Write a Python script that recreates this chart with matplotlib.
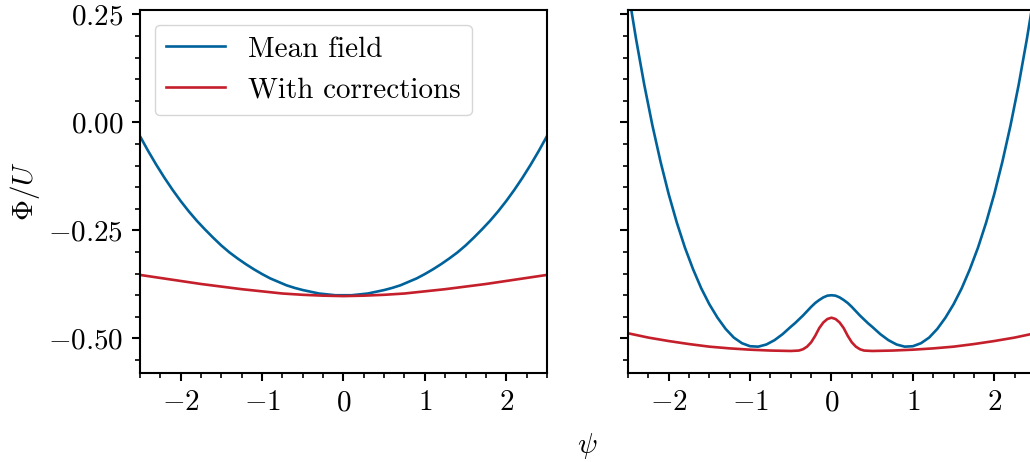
import numpy as np
import matplotlib
matplotlib.use('Agg')
import matplotlib.pyplot as plt
from matplotlib.ticker import MultipleLocator, FormatStrFormatter

plt.rcParams['font.family'] = 'serif'
plt.rcParams['font.serif'] = ['cmr10']
plt.rcParams['mathtext.fontset'] = 'cm'
plt.rcParams['axes.formatter.use_mathtext'] = True

BLUE = '#00629a'
RED = '#c41f2b'

# values read at |psi|, both panels are symmetric in psi
psi_mf_left = [0.0, 0.1, 0.2, 0.3, 0.4, 0.5, 0.6, 0.7, 0.8, 0.9, 1.0, 1.1, 1.2,
               1.3, 1.4, 1.5, 1.6, 1.7, 1.8, 1.9, 2.0, 2.1, 2.2, 2.3, 2.4, 2.5]
mf_left = [-0.400, -0.400, -0.398, -0.396, -0.392, -0.388, -0.383, -0.377, -0.369,
           -0.361, -0.351, -0.340, -0.328, -0.315, -0.301, -0.285, -0.267, -0.248,
           -0.228, -0.206, -0.182, -0.156, -0.128, -0.098, -0.066, -0.032]
psi_corr_left = [0.0, 0.25, 0.5, 0.75, 1.0, 1.25, 1.5, 1.75, 2.0, 2.25, 2.5]
corr_left = [-0.402, -0.401, -0.399, -0.396, -0.391, -0.386, -0.380, -0.374, -0.367,
             -0.360, -0.353]

psi_mf_right = [0.0, 0.05, 0.1, 0.15, 0.2, 0.25, 0.3, 0.35, 0.4, 0.45, 0.5, 0.6, 0.7,
                0.8, 0.9, 1.0, 1.1, 1.2, 1.3, 1.4, 1.5, 1.6, 1.7, 1.8, 1.9, 2.0,
                2.1, 2.2, 2.3, 2.4, 2.5]
mf_right = [-0.400, -0.401, -0.405, -0.411, -0.418, -0.427, -0.437, -0.447, -0.456,
            -0.465, -0.473, -0.490, -0.504, -0.514, -0.519, -0.518, -0.511, -0.498,
            -0.478, -0.452, -0.421, -0.384, -0.340, -0.290, -0.232, -0.166, -0.091,
            -0.007, 0.087, 0.192, 0.307]
psi_corr_right = [0.0, 0.05, 0.1, 0.15, 0.2, 0.25, 0.3, 0.35, 0.4, 0.5, 0.75, 1.0,
                  1.25, 1.5, 1.75, 2.0, 2.25, 2.5]
corr_right = [-0.452, -0.455, -0.463, -0.476, -0.494, -0.509, -0.519, -0.525, -0.528,
              -0.529, -0.528, -0.526, -0.523, -0.519, -0.513, -0.506, -0.498, -0.488]


def mirror(x, y):
    x = np.asarray(x)
    y = np.asarray(y)
    return np.concatenate([-x[:0:-1], x]), np.concatenate([y[:0:-1], y])


fig = plt.figure(figsize=(10.30, 4.62), dpi=100)
ax1 = fig.add_axes([0.1359, 0.1926, 0.3951, 0.7857])
ax2 = fig.add_axes([0.6097, 0.1926, 0.3951, 0.7857], sharey=ax1)

lw = 1.9
ax1.plot(*mirror(psi_mf_left, mf_left), color=BLUE, lw=lw, label='Mean field')
ax1.plot(*mirror(psi_corr_left, corr_left), color=RED, lw=lw, label='With corrections')
ax2.plot(*mirror(psi_mf_right, mf_right), color=BLUE, lw=lw)
ax2.plot(*mirror(psi_corr_right, corr_right), color=RED, lw=lw)

for ax in (ax1, ax2):
    ax.set_xlim(-2.5, 2.5)
    ax.set_ylim(-0.58, 0.26)
    ax.xaxis.set_major_locator(MultipleLocator(1))
    ax.xaxis.set_minor_locator(MultipleLocator(0.25))
    ax.yaxis.set_major_locator(MultipleLocator(0.25))
    ax.yaxis.set_minor_locator(MultipleLocator(0.05))
    ax.tick_params(which='major', length=6, width=1.5, labelsize=21, pad=6)
    ax.tick_params(which='minor', length=3.5, width=1.2)
    ax.xaxis.set_major_formatter(FormatStrFormatter('$%d$'))
    for s in ax.spines.values():
        s.set_linewidth(1.5)

ax1.yaxis.set_major_formatter(FormatStrFormatter('$%.2f$'))
ax2.tick_params(labelleft=False)

ax1.set_ylabel(r'$\Phi/U$', fontsize=21, labelpad=4)
fig.text(0.57, 0.035, r'$\psi$', fontsize=21, ha='center', va='center')

ax1.legend(loc='upper left', fontsize=21, borderaxespad=0.5)

fig.savefig('out.png', dpi=100)
